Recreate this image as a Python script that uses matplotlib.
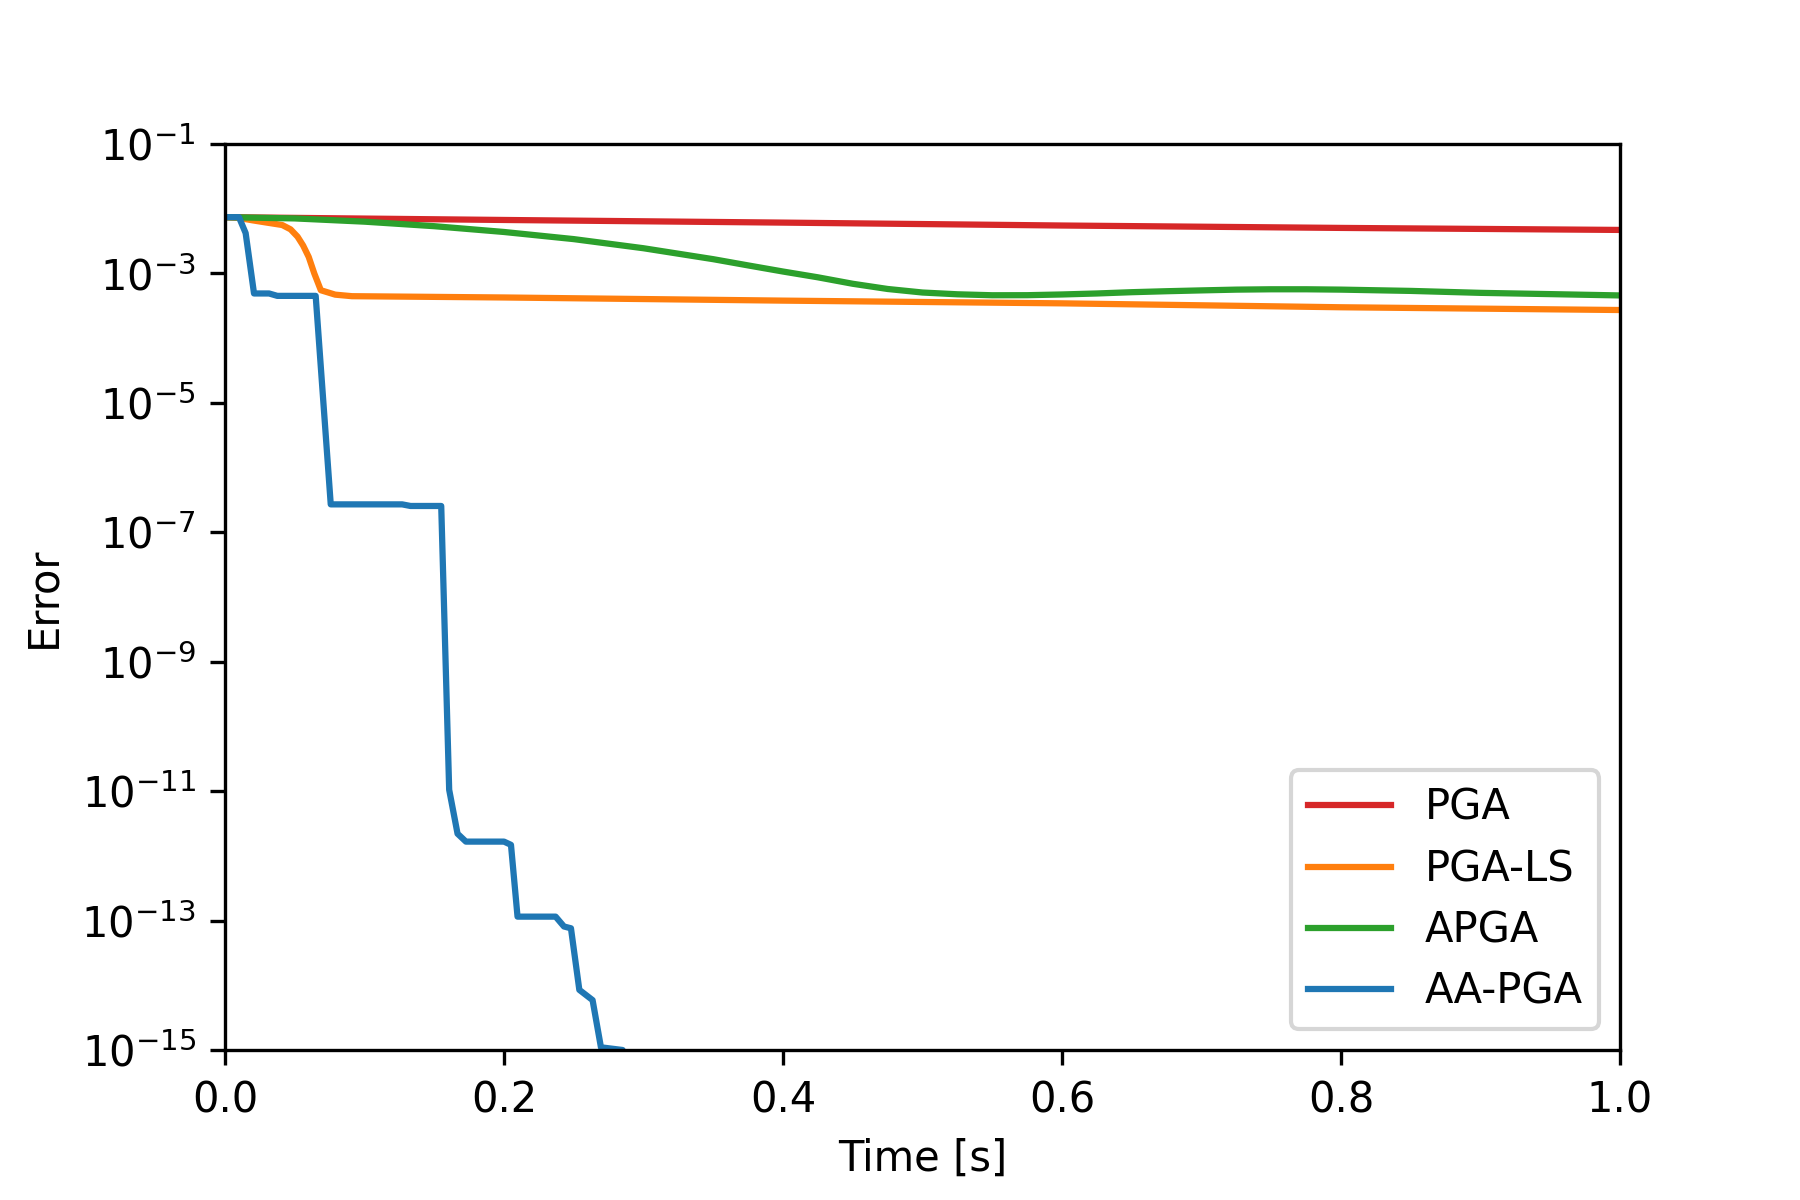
import matplotlib
matplotlib.use("Agg")
import matplotlib.pyplot as plt

# PGA
t_pga = [0.0, 0.2, 0.4, 0.6, 0.8, 1.0]
e_pga = [7.4e-3, 6.7e-3, 6.1e-3, 5.5e-3, 5.05e-3, 4.7e-3]

# PGA-LS
t_pgals = [0.0, 0.01, 0.02, 0.03, 0.041, 0.047, 0.052, 0.056, 0.060, 0.064,
           0.0687, 0.079, 0.091, 0.2, 0.4, 0.6, 0.8, 1.0]
e_pgals = [7.4e-3, 7.2e-3, 6.6e-3, 6.1e-3, 5.6e-3, 4.8e-3, 3.7e-3, 2.7e-3, 1.8e-3, 1.0e-3,
           5.5e-4, 4.7e-4, 4.45e-4, 4.25e-4, 3.8e-4, 3.45e-4, 3.0e-4, 2.72e-4]

# APGA
t_apga = [0.0, 0.05, 0.1, 0.15, 0.2, 0.25, 0.3, 0.35, 0.375, 0.4, 0.425, 0.45, 0.475, 0.5,
          0.525, 0.55, 0.575, 0.6, 0.625, 0.65, 0.675, 0.7, 0.725, 0.75, 0.775, 0.8,
          0.85, 0.9, 0.95, 1.0]
e_apga = [7.41e-3, 7.08e-3, 6.31e-3, 5.37e-3, 4.37e-3, 3.39e-3, 2.45e-3, 1.66e-3, 1.33e-3, 1.07e-3,
          8.71e-4, 6.92e-4, 5.75e-4, 5.07e-4,
          4.76e-4, 4.60e-4, 4.61e-4, 4.73e-4, 4.90e-4, 5.13e-4, 5.31e-4, 5.47e-4, 5.62e-4, 5.69e-4,
          5.69e-4, 5.62e-4, 5.37e-4, 5.01e-4, 4.79e-4, 4.57e-4]

# AA-PGA
t_aapga = [0.0, 0.010, 0.0148, 0.0208, 0.0316, 0.0375, 0.065, 0.0758, 0.127, 0.133, 0.155,
           0.1607, 0.1667, 0.1727, 0.200, 0.205, 0.2097, 0.237, 0.243, 0.248, 0.254,
           0.2635, 0.2695, 0.285, 0.29]
e_aapga = [7.4e-3, 7.4e-3, 4.2e-3, 4.9e-4, 4.9e-4, 4.5e-4, 4.5e-4, 2.7e-7, 2.7e-7, 2.55e-7, 2.55e-7,
           1.05e-11, 2.2e-12, 1.66e-12, 1.66e-12, 1.48e-12, 1.15e-13, 1.15e-13, 8.1e-14, 7.6e-14, 8.5e-15,
           5.9e-15, 1.1e-15, 1.0e-15, 1e-17]

fig, ax = plt.subplots(figsize=(6, 4), dpi=300)
fig.subplots_adjust(left=0.125, right=0.9, top=0.88, bottom=0.125)

ax.semilogy(t_pga, e_pga, color="tab:red", label="PGA")
ax.semilogy(t_pgals, e_pgals, color="tab:orange", label="PGA-LS")
ax.semilogy(t_apga, e_apga, color="tab:green", label="APGA")
ax.semilogy(t_aapga, e_aapga, color="tab:blue", label="AA-PGA")

ax.set_xlim(0, 1)
ax.set_ylim(1e-15, 1e-1)
ax.set_yticks([1e-1, 1e-3, 1e-5, 1e-7, 1e-9, 1e-11, 1e-13, 1e-15])
ax.minorticks_off()
ax.set_xlabel("Time [s]")
ax.set_ylabel("Error")
ax.legend(loc="lower right", labelspacing=0.46)

fig.savefig("out.png", dpi=300)
